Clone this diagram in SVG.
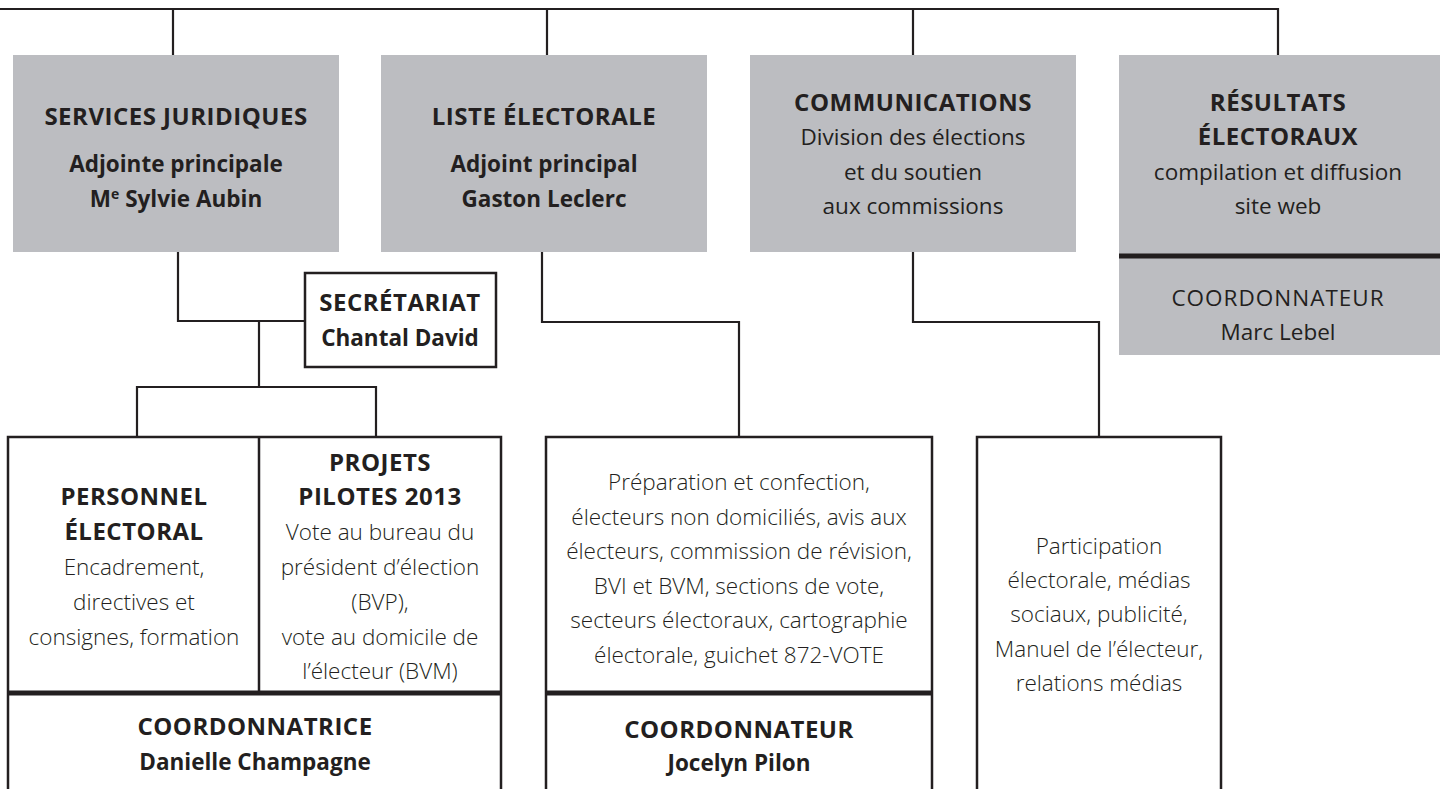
<svg xmlns="http://www.w3.org/2000/svg" width="1440" height="789" viewBox="0 0 1440 789">
<style>
text{font-family:"Open Sans","Noto Sans","Liberation Sans",sans-serif;font-size:22.5px;fill:#231f20;text-anchor:middle}
.b{font-weight:700}
.m{font-weight:400}
.l{font-weight:300}
.c{font-size:24px;letter-spacing:0.5px}
.cm{letter-spacing:1px}
.gray{fill:#bcbdc1;stroke:none}
.box{fill:#fff;stroke:#231f20;stroke-width:2.5}
.thick{stroke:#231f20;stroke-width:5;fill:none}
.thin{stroke:#231f20;stroke-width:2.5;fill:none}
.conn{stroke:#231f20;stroke-width:2.2;fill:none}
</style>
<rect width="1440" height="789" fill="#fff"/>
<g id="connectors">
<path class="conn" d="M0 9 H1278 V55 M173 9 V55 M547 9 V55 M913 9 V55"/>
<path class="conn" d="M178 252 V321 H305 M259 321 V387 M137 437 V387 H376 V437"/>
<path class="conn" d="M542 252 V322 H739 V437"/>
<path class="conn" d="M913 252 V322 H1099 V437"/>
</g>
<g id="services-juridiques">
<rect class="gray" x="13" y="55" width="326" height="197"/>
<text class="b c" x="176" y="125">SERVICES JURIDIQUES</text>
<text class="b" x="176" y="172">Adjointe principale</text>
<text class="b" x="176" y="207">M<tspan font-size="14" dy="-8">e</tspan><tspan dy="8"> Sylvie Aubin</tspan></text>
</g>
<g id="liste-electorale">
<rect class="gray" x="381" y="55" width="326" height="197"/>
<text class="b c" x="544" y="125">LISTE ÉLECTORALE</text>
<text class="b" x="544" y="172">Adjoint principal</text>
<text class="b" x="544" y="207">Gaston Leclerc</text>
</g>
<g id="communications">
<rect class="gray" x="750" y="55" width="326" height="197"/>
<text class="b c" x="913" y="111">COMMUNICATIONS</text>
<text class="m" x="913" y="145">Division des élections</text>
<text class="m" x="913" y="180">et du soutien</text>
<text class="m" x="913" y="214">aux commissions</text>
</g>
<g id="resultats">
<rect class="gray" x="1119" y="55" width="321" height="300"/>
<line class="thick" x1="1119" y1="256" x2="1440" y2="256"/>
<text class="b c" x="1278" y="111">RÉSULTATS</text>
<text class="b c" x="1278" y="145">ÉLECTORAUX</text>
<text class="m" x="1278" y="180">compilation et diffusion</text>
<text class="m" x="1278" y="214">site web</text>
<text class="m cm" x="1278" y="306">COORDONNATEUR</text>
<text class="m" x="1278" y="340">Marc Lebel</text>
</g>
<g id="secretariat">
<rect class="box" x="305" y="273" width="191" height="94"/>
<text class="b c" x="400" y="311">SECRÉTARIAT</text>
<text class="b" x="400" y="346">Chantal David</text>
</g>
<g id="personnel-projets">
<rect class="box" x="8" y="437" width="493" height="370"/>
<line class="thin" x1="259" y1="437" x2="259" y2="693"/>
<line class="thick" x1="8" y1="693" x2="501" y2="693"/>
<text class="b c" x="134" y="505">PERSONNEL</text>
<text class="b c" x="134" y="540">ÉLECTORAL</text>
<text class="l" x="134" y="575">Encadrement,</text>
<text class="l" x="134" y="610">directives et</text>
<text class="l" x="134" y="645">consignes, formation</text>
<text class="b c" x="380" y="471">PROJETS</text>
<text class="b c" x="380" y="505">PILOTES 2013</text>
<text class="l" x="380" y="540">Vote au bureau du</text>
<text class="l" x="380" y="575">président d’élection</text>
<text class="l" x="380" y="610">(BVP),</text>
<text class="l" x="380" y="645">vote au domicile de</text>
<text class="l" x="380" y="679">l’électeur (BVM)</text>
<text class="b c" x="255" y="735">COORDONNATRICE</text>
<text class="b" x="255" y="770">Danielle Champagne</text>
</g>
<g id="liste-details">
<rect class="box" x="546" y="437" width="386" height="370"/>
<line class="thick" x1="546" y1="693" x2="932" y2="693"/>
<text class="l" x="739" y="490">Préparation et confection,</text>
<text class="l" x="739" y="525">électeurs non domiciliés, avis aux</text>
<text class="l" x="739" y="559">électeurs, commission de révision,</text>
<text class="l" x="739" y="594">BVI et BVM, sections de vote,</text>
<text class="l" x="739" y="628">secteurs électoraux, cartographie</text>
<text class="l" x="739" y="663">électorale, guichet 872-VOTE</text>
<text class="b c" x="739" y="738">COORDONNATEUR</text>
<text class="b" x="739" y="771">Jocelyn Pilon</text>
</g>
<g id="communications-details">
<rect class="box" x="977" y="437" width="244" height="370"/>
<text class="l" x="1099" y="554">Participation</text>
<text class="l" x="1099" y="588">électorale, médias</text>
<text class="l" x="1099" y="622">sociaux, publicité,</text>
<text class="l" x="1099" y="657">Manuel de l’électeur,</text>
<text class="l" x="1099" y="691">relations médias</text>
</g>
</svg>
